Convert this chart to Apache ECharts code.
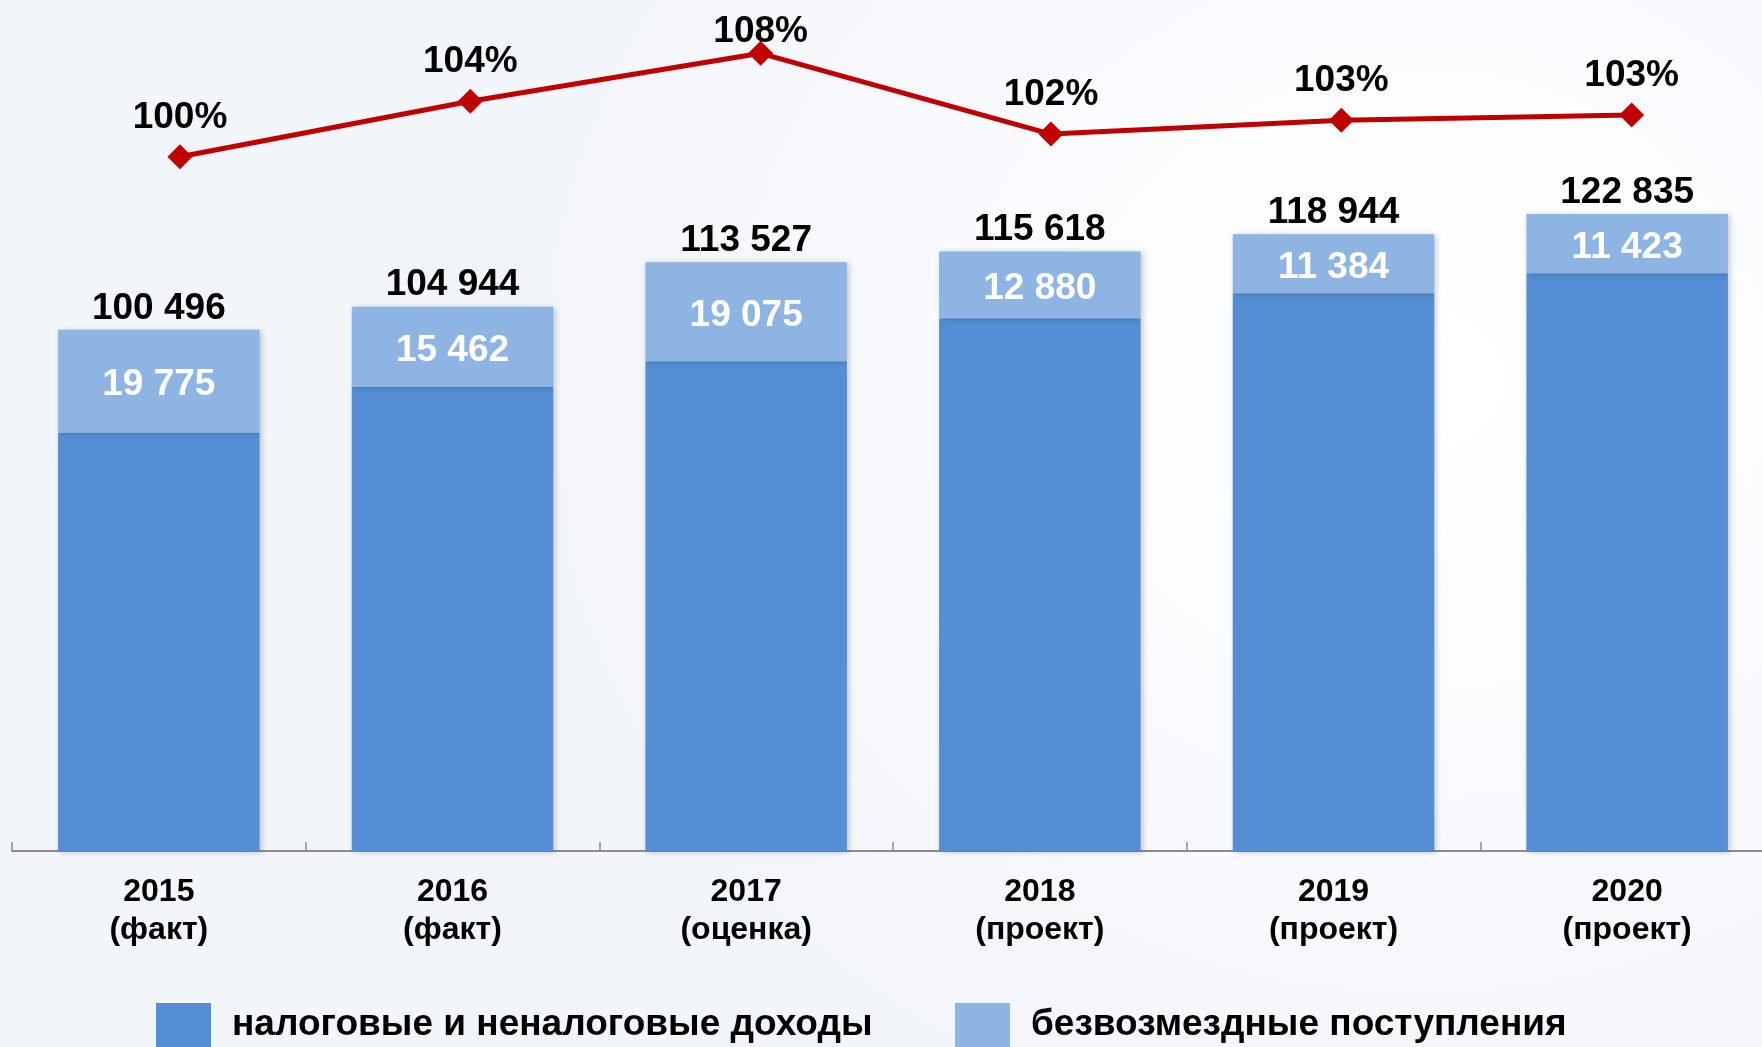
<!DOCTYPE html>
<html>
<head>
<meta charset="utf-8">
<script src="https://cdn.jsdelivr.net/npm/echarts@6/dist/echarts.min.js"></script>
<style>
  html, body { margin: 0; padding: 0; }
  body {
    width: 1762px; height: 1047px; overflow: hidden;
    background: radial-gradient(ellipse 900px 800px at 1420px 380px, #ffffff 0%, #fbfcfe 40%, #f2f5fa 100%);
  }
  /* wider than the window so the plot can run past the right edge like the original */
  #chart { width: 1800px; height: 1047px; }
</style>
</head>
<body>
<div id="chart"></div>
<script>
const years = ["2015\n(факт)", "2016\n(факт)", "2017\n(оценка)", "2018\n(проект)", "2019\n(проект)", "2020\n(проект)"];
const taxIncome = [80721, 89482, 94452, 102738, 107560, 111412];
const transfers = [19775, 15462, 19075, 12880, 11384, 11423];
const totals = [100496, 104944, 113527, 115618, 118944, 122835];
const growth = [100.0, 104.4, 108.2, 101.8, 102.9, 103.3];

const FONT = "'Liberation Sans', Arial, sans-serif";
const fmt = (v) => String(v).replace(/\B(?=(\d{3})+(?!\d))/g, " ");

const chart = echarts.init(document.getElementById("chart"));

const barShadow = { shadowBlur: 6, shadowColor: "rgba(0,0,0,0.22)", shadowOffsetX: 2, shadowOffsetY: 1 };
const legendText = { fontSize: 37, fontWeight: "bold", color: "#000", fontFamily: FONT, padding: [0, 0, 0, 16] };

chart.setOption({
  backgroundColor: "transparent",
  animation: false,
  textStyle: { fontFamily: FONT },
  grid: [
    { left: 12, top: 0, width: 1762, height: 851 },
    { left: 34.8, top: 0, width: 1742, height: 851 },
  ],
  // legend squares run off the bottom edge in the original, 44px is what shows
  legend: [
    {
      left: 156, top: 1003, padding: 0, itemWidth: 55, itemHeight: 44, icon: "rect",
      data: ["налоговые и неналоговые доходы"],
      textStyle: legendText,
    },
    {
      left: 955, top: 1003, padding: 0, itemWidth: 55, itemHeight: 44, icon: "rect",
      data: ["безвозмездные поступления"],
      textStyle: legendText,
    },
  ],
  xAxis: [
    {
      type: "category", gridIndex: 0, data: years,
      axisLine: { lineStyle: { color: "#8c8c8c", width: 2 } },
      axisTick: { show: true, inside: true, length: 9, lineStyle: { color: "#8c8c8c", width: 1.5 } },
      axisLabel: { fontSize: 32, fontWeight: "bold", color: "#000", lineHeight: 38, margin: 22, fontFamily: FONT },
    },
    { type: "category", gridIndex: 1, data: years, show: false },
  ],
  yAxis: [
    { type: "value", gridIndex: 0, min: 0, max: 164100, show: false },
    { type: "value", gridIndex: 1, min: 44.94, max: 112.43, show: false },
  ],
  series: [
    {
      name: "налоговые и неналоговые доходы",
      type: "bar", stack: "sum", xAxisIndex: 0, yAxisIndex: 0,
      barWidth: 201.5, barGap: "-100%",
      data: taxIncome,
      itemStyle: Object.assign({ color: "#558ed5" }, barShadow),
    },
    {
      name: "безвозмездные поступления",
      type: "bar", stack: "sum", xAxisIndex: 0, yAxisIndex: 0,
      barWidth: 201.5,
      data: transfers,
      itemStyle: Object.assign({ color: "#8eb4e3" }, barShadow),
      label: {
        show: true, position: "inside", offset: [0, 4], color: "#fff", fontSize: 37, fontWeight: "bold", fontFamily: FONT,
        formatter: (p) => fmt(p.value),
      },
    },
    {
      name: "total",
      type: "bar", xAxisIndex: 0, yAxisIndex: 0,
      barWidth: 201.5,
      data: totals,
      z: 1,
      itemStyle: { color: "transparent" },
      label: {
        show: true, position: "top", distance: 3, color: "#000", fontSize: 37, fontWeight: "bold", fontFamily: FONT,
        formatter: (p) => fmt(p.value),
      },
      silent: true,
    },
    {
      name: "growth",
      type: "line", xAxisIndex: 1, yAxisIndex: 1,
      data: growth.map((v, i) => i === 2 ? { value: v, label: { offset: [0, 17] } } : v),
      symbol: "diamond", symbolSize: 25,
      lineStyle: { color: "#c00000", width: 5 },
      itemStyle: { color: "#c00000" },
      z: 5,
      label: {
        show: true, position: "top", distance: 8, color: "#000", fontSize: 37, fontWeight: "bold", fontFamily: FONT,
        formatter: (p) => Math.round(p.value) + "%",
      },
    },
  ],
});
</script>
</body>
</html>
